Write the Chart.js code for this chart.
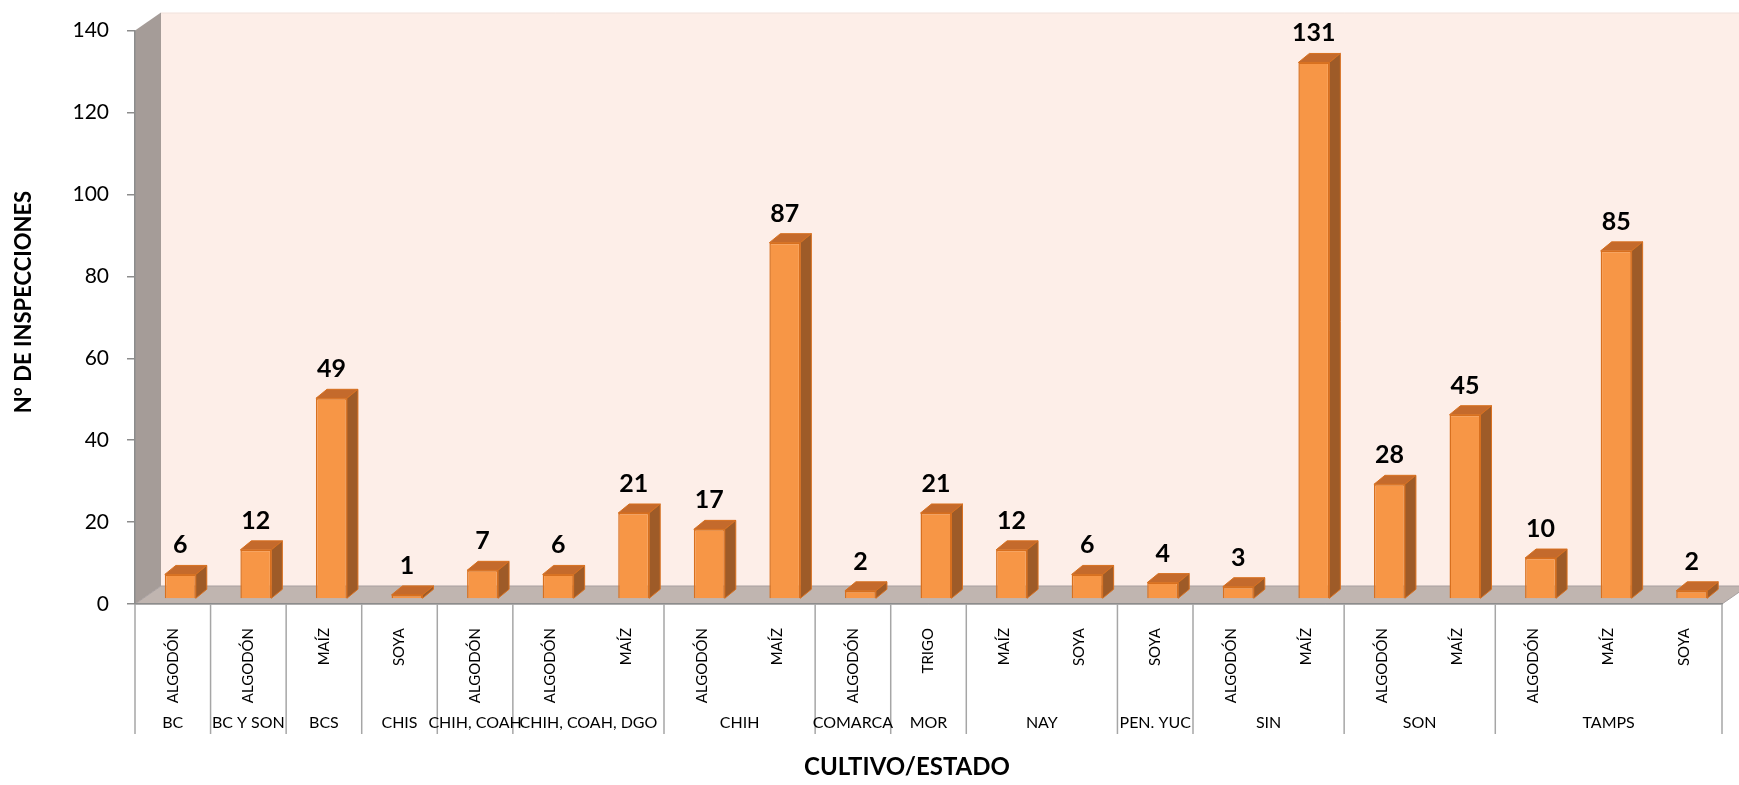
<!DOCTYPE html>
<html>
<head>
<meta charset="utf-8">
<script src="https://cdn.jsdelivr.net/npm/chart.js@4/dist/chart.umd.min.js"></script>
<style>
  html, body { margin: 0; padding: 0; background: #fff; }
  #wrap { width: 1739px; height: 785px; }
</style>
</head>
<body>
<div id="wrap"><canvas id="chart" width="1739" height="785"></canvas></div>
<script>
// crop under each bar
const cultivos = ['ALGODÓN', 'ALGODÓN', 'MAÍZ', 'SOYA', 'ALGODÓN', 'ALGODÓN', 'MAÍZ',
    'ALGODÓN', 'MAÍZ', 'ALGODÓN', 'TRIGO', 'MAÍZ', 'SOYA', 'SOYA', 'ALGODÓN', 'MAÍZ',
    'ALGODÓN', 'MAÍZ', 'ALGODÓN', 'MAÍZ', 'SOYA'];
// state groups on the second row and how many crops each covers
const estados = ['BC', 'BC Y SON', 'BCS', 'CHIS', 'CHIH, COAH', 'CHIH, COAH, DGO', 'CHIH',
    'COMARCA', 'MOR', 'NAY', 'PEN. YUC', 'SIN', 'SON', 'TAMPS'];
const estadoSpan = [1, 1, 1, 1, 1, 2, 2, 1, 1, 2, 1, 2, 2, 3];
const inspecciones = [6, 12, 49, 1, 7, 6, 21, 17, 87, 2, 21, 12, 6, 4, 3, 131, 28, 45, 10, 85, 2];
const yMax = 140;
const yStep = 20;

const FONT = 'Lato, "Open Sans", sans-serif';
const wallDepth = { dx: 26, dy: -18 };   // floor / side wall depth
const barDepth = { dx: 11, dy: -9 };     // bar top / side faces
const barShift = { dx: 7.5, dy: -5 };    // bars stand halfway back on the floor

const colors = {
    backWall: '#FDEEE8',
    sideWall: '#A59C98',
    floor: '#C0B5B0',
    axis: '#8C8C8C',
    front: '#F79646',
    frontBorder: '#D8701F',
    top: '#C46A2C',
    side: '#9E5B28'
};

const threeD = {
    id: 'threeD',
    beforeDraw(chart) {
        const { ctx, chartArea: a, width } = chart;
        const { dx, dy } = wallDepth;
        ctx.save();
        ctx.fillStyle = '#fff';
        ctx.fillRect(0, 0, width, chart.height);
        // back wall
        ctx.fillStyle = colors.backWall;
        ctx.fillRect(a.left + dx, a.top + dy, width - a.left, a.bottom - a.top);
        ctx.strokeStyle = '#F2E4DE';
        ctx.lineWidth = 1;
        ctx.beginPath();
        ctx.moveTo(a.left + dx, a.top + dy + 0.5);
        ctx.lineTo(width, a.top + dy + 0.5);
        ctx.stroke();
        // side wall
        ctx.fillStyle = colors.sideWall;
        ctx.beginPath();
        ctx.moveTo(a.left, a.top);
        ctx.lineTo(a.left + dx, a.top + dy);
        ctx.lineTo(a.left + dx, a.bottom + dy);
        ctx.lineTo(a.left, a.bottom);
        ctx.closePath();
        ctx.fill();
        // floor
        ctx.fillStyle = colors.floor;
        ctx.beginPath();
        ctx.moveTo(a.left, a.bottom);
        ctx.lineTo(a.left + dx, a.bottom + dy);
        ctx.lineTo(a.right + dx, a.bottom + dy);
        ctx.lineTo(a.right, a.bottom);
        ctx.closePath();
        ctx.fill();
        ctx.strokeStyle = '#A8A0A0';
        ctx.stroke();
        ctx.restore();
    },
    beforeDatasetsDraw(chart) {
        chart.ctx.save();
        chart.ctx.translate(barShift.dx, barShift.dy);
    },
    afterDatasetsDraw(chart) {
        const { ctx } = chart;
        const { dx, dy } = barDepth;
        const meta = chart.getDatasetMeta(0);
        ctx.lineWidth = 1;
        ctx.strokeStyle = colors.frontBorder;
        meta.data.forEach(bar => {
            const l = bar.x - bar.width / 2;
            const r = bar.x + bar.width / 2;
            // top face
            ctx.fillStyle = colors.top;
            ctx.beginPath();
            ctx.moveTo(l, bar.y);
            ctx.lineTo(l + dx, bar.y + dy);
            ctx.lineTo(r + dx, bar.y + dy);
            ctx.lineTo(r, bar.y);
            ctx.closePath();
            ctx.fill();
            ctx.stroke();
            // side face
            ctx.fillStyle = colors.side;
            ctx.beginPath();
            ctx.moveTo(r, bar.y);
            ctx.lineTo(r + dx, bar.y + dy);
            ctx.lineTo(r + dx, bar.base + dy);
            ctx.lineTo(r, bar.base);
            ctx.closePath();
            ctx.fill();
            ctx.stroke();
        });
        // value labels
        ctx.fillStyle = '#000';
        ctx.font = 'bold 25px ' + FONT;
        ctx.textAlign = 'center';
        ctx.textBaseline = 'alphabetic';
        meta.data.forEach((bar, i) => {
            ctx.fillText(String(inspecciones[i]), bar.x, bar.y - 21);
        });
        ctx.restore();
    },
    afterDraw(chart) {
        const { ctx, chartArea: a, scales: { x } } = chart;
        const lineBottom = 734;
        ctx.save();
        ctx.strokeStyle = '#A6A6A6';
        ctx.lineWidth = 1.5;
        ctx.fillStyle = '#000';
        ctx.font = '16px ' + FONT;
        ctx.textAlign = 'center';
        ctx.textBaseline = 'middle';
        let idx = 0;
        const drawSep = px => {
            ctx.beginPath();
            ctx.moveTo(px, a.bottom);
            ctx.lineTo(px, lineBottom);
            ctx.stroke();
        };
        drawSep(x.getPixelForValue(-0.5));
        estados.forEach((name, g) => {
            const start = x.getPixelForValue(idx - 0.5);
            idx += estadoSpan[g];
            const end = x.getPixelForValue(idx - 0.5);
            drawSep(end);
            ctx.fillText(name, (start + end) / 2, 723);
        });
        // axis titles
        ctx.font = 'bold 24px ' + FONT;
        ctx.fillText('CULTIVO/ESTADO', 907, 767);
        ctx.font = 'bold 22px ' + FONT;
        ctx.translate(24, 302);
        ctx.rotate(-Math.PI / 2);
        ctx.fillText('N° DE INSPECCIONES', 0, 0);
        ctx.restore();
    }
};

new Chart(document.getElementById('chart'), {
    type: 'bar',
    data: {
        labels: cultivos,
        datasets: [{
            data: inspecciones,
            backgroundColor: colors.front,
            borderColor: colors.frontBorder,
            borderWidth: 1.5,
            categoryPercentage: 1,
            barPercentage: 0.41
        }]
    },
    options: {
        responsive: false,
        animation: false,
        layout: { padding: { top: 28, right: 17, left: 0, bottom: 0 } },
        plugins: {
            legend: { display: false },
            tooltip: { enabled: false }
        },
        scales: {
            x: {
                offset: true,
                grid: { display: false },
                border: { display: true, color: colors.axis, width: 1.5 },
                ticks: {
                    autoSkip: false,
                    maxRotation: 90,
                    minRotation: 90,
                    padding: 16,
                    color: '#000',
                    font: { family: FONT, size: 15 }
                },
                afterFit: s => { s.height = 181; }
            },
            y: {
                min: 0,
                max: yMax,
                ticks: {
                    stepSize: yStep,
                    padding: 18,
                    color: '#000',
                    font: { family: FONT, size: 21 }
                },
                grid: { drawOnChartArea: false, drawTicks: true, tickLength: 8, color: colors.axis, lineWidth: 1.5 },
                border: { display: true, color: colors.axis, width: 1.5 },
                afterFit: s => { s.width = 135; }
            }
        }
    },
    plugins: [threeD]
});
</script>
</body>
</html>
